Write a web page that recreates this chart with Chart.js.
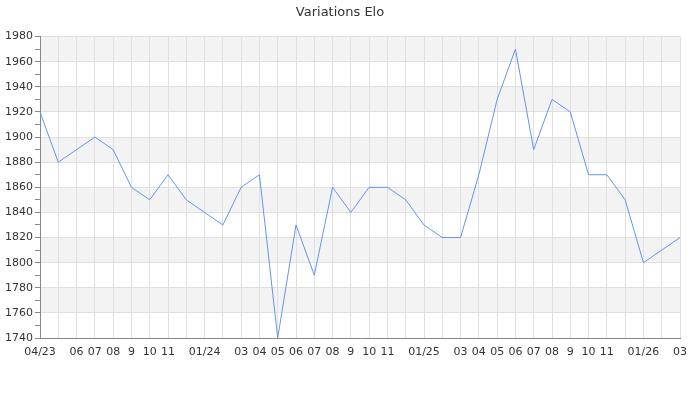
<!DOCTYPE html>
<html>
<head>
<meta charset="utf-8">
<script src="https://cdn.jsdelivr.net/npm/chart.js@4"></script>
<style>
  body { margin: 0; background: #fff; }
</style>
</head>
<body>
<canvas id="elo-chart" width="700" height="400"></canvas>
<script>
// one point per month, 04/23 .. 03/26
const months = ['04/23', '05', '06', '07', '08', '9', '10', '11', '12',
  '01/24', '02', '03', '04', '05', '06', '07', '08', '9', '10', '11', '12',
  '01/25', '02', '03', '04', '05', '06', '07', '08', '9', '10', '11', '12',
  '01/26', '02', '03'];
// labels that are not shown on the axis (too crowded)
const hiddenLabels = [1, 8, 10, 20, 22, 32, 34];
const elo = [1920, 1880, 1890, 1900, 1890, 1860, 1850, 1870, 1850, 1840,
  1830, 1860, 1870, 1740, 1830, 1790, 1860, 1840, 1860, 1860,
  1850, 1830, 1820, 1820, 1870, 1930, 1970, 1890, 1930, 1920,
  1870, 1870, 1850, 1800, 1810, 1820];
const yMin = 1740;
const yMax = 1980;

// alternating grey bands behind the grid
const bands = {
  id: 'bands',
  beforeDraw(chart) {
    const { ctx, chartArea, scales } = chart;
    const y = scales.y;
    ctx.save();
    ctx.fillStyle = '#f3f3f3';
    for (let v = yMax; v > yMin; v -= 40) {
      const top = y.getPixelForValue(v);
      const bottom = y.getPixelForValue(v - 20);
      ctx.fillRect(chartArea.left, top, chartArea.right - chartArea.left, bottom - top);
    }
    ctx.restore();
  }
};

new Chart(document.getElementById('elo-chart'), {
  type: 'line',
  data: {
    labels: months,
    datasets: [{
      label: 'Elo',
      data: elo,
      borderColor: '#6495ed',
      borderWidth: 1,
      pointRadius: 0,
      tension: 0,
      fill: false
    }]
  },
  options: {
    responsive: false,
    animation: false,
    layout: { padding: { left: 0, right: 20, top: 0, bottom: 0 } },
    plugins: {
      legend: { display: false },
      tooltip: { enabled: false },
      title: {
        display: true,
        text: 'Variations Elo',
        color: '#333',
        font: { family: 'DejaVu Sans', size: 13, weight: 'normal' },
        padding: { top: 5, bottom: 16 }
      }
    },
    scales: {
      x: {
        offset: false,
        grid: { color: '#e0e0e0', offset: false, drawTicks: false },
        border: { color: '#888' },
        ticks: {
          autoSkip: false,
          maxRotation: 0,
          padding: 8,
          color: '#333',
          font: { family: 'DejaVu Sans', size: 11 },
          callback: (v, i) => hiddenLabels.includes(i) ? '' : months[i]
        },
        afterFit: s => { s.height = 62; }
      },
      y: {
        min: yMin,
        max: yMax,
        grid: {
          color: c => c.tick && c.tick.value % 20 === 0 ? '#e0e0e0' : 'rgba(0,0,0,0)',
          tickColor: '#888',
          tickLength: 5
        },
        border: { color: '#888' },
        ticks: {
          stepSize: 10,
          autoSkip: false,
          padding: 2,
          color: '#333',
          font: { family: 'DejaVu Sans', size: 11 },
          callback: v => v % 20 === 0 ? v : ''
        },
        afterFit: s => { s.width = 40; }
      }
    }
  },
  plugins: [bands]
});
</script>
</body>
</html>
